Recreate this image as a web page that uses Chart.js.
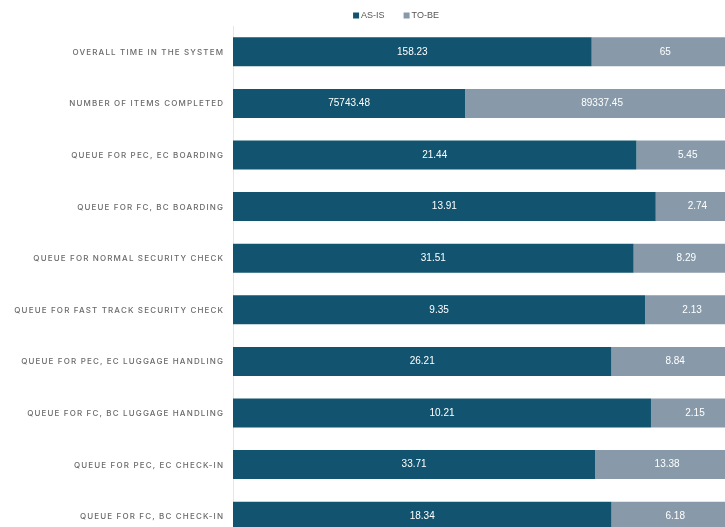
<!DOCTYPE html>
<html>
<head>
<meta charset="utf-8">
<script src="https://cdn.jsdelivr.net/npm/chart.js@4.4.1/dist/chart.umd.min.js"></script>
<style>
  html, body { margin: 0; padding: 0; background: #fff; overflow: hidden; }
  #wrap { width: 739px; height: 542px; }
</style>
</head>
<body>
<div id="wrap"><canvas id="myChart" width="739" height="542"></canvas></div>
<script>
// categorias (de cima para baixo)
const categories = [
  "OVERALL TIME IN THE SYSTEM",
  "NUMBER OF ITEMS COMPLETED",
  "QUEUE FOR PEC, EC BOARDING",
  "QUEUE FOR FC, BC BOARDING",
  "QUEUE FOR NORMAL SECURITY CHECK",
  "QUEUE FOR FAST TRACK SECURITY CHECK",
  "QUEUE FOR PEC, EC LUGGAGE HANDLING",
  "QUEUE FOR FC, BC LUGGAGE HANDLING",
  "QUEUE FOR PEC, EC CHECK-IN",
  "QUEUE FOR FC, BC CHECK-IN"
];
const asIs = [158.23, 75743.48, 21.44, 13.91, 31.51, 9.35, 26.21, 10.21, 33.71, 18.34];
const toBe = [65, 89337.45, 5.45, 2.74, 8.29, 2.13, 8.84, 2.15, 13.38, 6.18];

// barras empilhadas em 100%
const asIsPct = asIs.map((v, i) => v / (v + toBe[i]) * 100);
const toBePct = toBe.map((v, i) => v / (asIs[i] + v) * 100);
const rawValues = [asIs, toBe];

// escreve o valor no meio de cada segmento
const valueLabels = {
  id: "valueLabels",
  afterDatasetsDraw(chart) {
    const ctx = chart.ctx;
    ctx.save();
    ctx.font = "10px 'Liberation Sans', Arial, sans-serif";
    ctx.fillStyle = "#ffffff";
    ctx.textAlign = "center";
    ctx.textBaseline = "middle";
    chart.data.datasets.forEach((ds, d) => {
      chart.getDatasetMeta(d).data.forEach((bar, i) => {
        const x = (bar.x + bar.base) / 2;
        ctx.fillText(String(rawValues[d][i]), x, bar.y);
      });
    });
    ctx.restore();
  }
};

// rótulos do eixo y com espaçamento entre letras
const categoryLabels = {
  id: "categoryLabels",
  afterDraw(chart) {
    const ctx = chart.ctx;
    const y = chart.scales.y;
    const spacing = 1.15;
    ctx.save();
    ctx.font = "500 8px Inter, 'Noto Sans', sans-serif";
    ctx.letterSpacing = spacing + "px";
    ctx.fillStyle = "#6a6a6a";
    ctx.textAlign = "right";
    ctx.textBaseline = "middle";
    categories.forEach((c, i) => {
      ctx.fillText(c, y.right - 10 + spacing, y.getPixelForValue(i) + 0.5);
    });
    ctx.restore();
  }
};

// legenda simples no topo
const topLegend = {
  id: "topLegend",
  afterDraw(chart) {
    const ctx = chart.ctx;
    const box = 6, gapText = 2, gapItem = 19, cx = 396, cy = 15.5;
    ctx.save();
    ctx.font = "9px 'Liberation Sans', Arial, sans-serif";
    ctx.textBaseline = "middle";
    ctx.textAlign = "left";
    const items = chart.data.datasets.map(ds => ({
      text: ds.label, color: ds.backgroundColor, w: ctx.measureText(ds.label).width
    }));
    let total = items.reduce((s, it) => s + box + gapText + it.w, 0) + gapItem * (items.length - 1);
    let x = cx - total / 2;
    items.forEach(it => {
      ctx.fillStyle = it.color;
      ctx.fillRect(x, cy - box / 2, box, box);
      ctx.fillStyle = "#555555";
      ctx.fillText(it.text, x + box + gapText, cy);
      x += box + gapText + it.w + gapItem;
    });
    ctx.restore();
  }
};

const config = {
  type: "bar",
  data: {
    labels: categories,
    datasets: [
      { label: "AS-IS", data: asIsPct, backgroundColor: "#12546f" },
      { label: "TO-BE", data: toBePct, backgroundColor: "#889aaa" }
    ]
  },
  options: {
    indexAxis: "y",
    responsive: false,
    animation: false,
    layout: { padding: { top: 26, right: 0, bottom: 0, left: 0 } },
    categoryPercentage: 1,
    barPercentage: 0.5625,
    scales: {
      x: { stacked: true, min: 0, max: 100, display: false },
      y: {
        stacked: true,
        ticks: { display: false },
        grid: { display: false },
        border: { display: true, color: "#e6e6e6" },
        afterFit(scale) { scale.width = 233; }
      }
    },
    plugins: {
      legend: { display: false },
      tooltip: { enabled: false }
    }
  },
  plugins: [valueLabels, categoryLabels, topLegend]
};

new Chart(document.getElementById("myChart"), config);
</script>
</body>
</html>
